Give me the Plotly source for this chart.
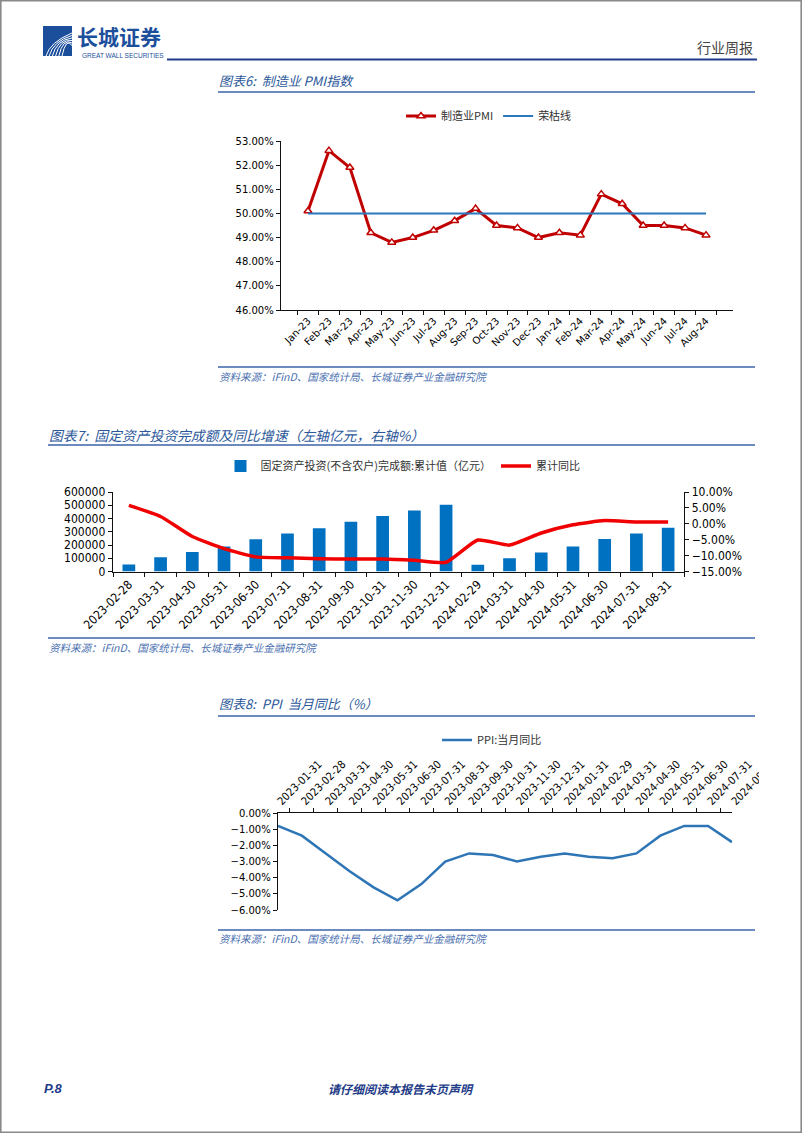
import plotly.graph_objects as go

W, H = 802, 1133


def px(x):
    return x / W


def py(y):
    return 1 - y / H


# ---------------- data ----------------
pmi_months = ["Jan-23", "Feb-23", "Mar-23", "Apr-23", "May-23", "Jun-23", "Jul-23", "Aug-23",
              "Sep-23", "Oct-23", "Nov-23", "Dec-23", "Jan-24", "Feb-24", "Mar-24", "Apr-24",
              "May-24", "Jun-24", "Jul-24", "Aug-24"]
pmi_values = [50.1, 52.6, 51.9, 49.2, 48.8, 49.0, 49.3, 49.7, 50.2, 49.5,
              49.4, 49.0, 49.2, 49.1, 50.8, 50.4, 49.5, 49.5, 49.4, 49.1]
boom_bust_level = 50.0

fai_dates = ["2023-02-28", "2023-03-31", "2023-04-30", "2023-05-31", "2023-06-30", "2023-07-31",
             "2023-08-31", "2023-09-30", "2023-10-31", "2023-11-30", "2023-12-31", "2024-02-29",
             "2024-03-31", "2024-04-30", "2024-05-31", "2024-06-30", "2024-07-31", "2024-08-31"]
fai_values = [53577, 107282, 147482, 188815, 243113, 285898, 327042, 375035, 419409,
              460814, 503036, 50847, 100042, 143401, 188006, 245391, 287611, 329385]
fai_yoy = [5.8, 2.3, -4.0, -7.8, -10.4, -10.7, -11.0, -11.1, -11.1,
           -11.5, -12.1, -5.1, -6.7, -2.9, -0.3, 1.0, 0.6, 0.6]

ppi_dates = ["2023-01-31", "2023-02-28", "2023-03-31", "2023-04-30", "2023-05-31", "2023-06-30",
             "2023-07-31", "2023-08-31", "2023-09-30", "2023-10-31", "2023-11-30", "2023-12-31",
             "2024-01-31", "2024-02-29", "2024-03-31", "2024-04-30", "2024-05-31", "2024-06-30",
             "2024-07-31", "2024-08-31"]
ppi_yoy = [-0.8, -1.4, -2.5, -3.6, -4.6, -5.4, -4.4, -3.0, -2.5, -2.6,
           -3.0, -2.7, -2.5, -2.7, -2.8, -2.5, -1.4, -0.8, -0.8, -1.8]

# ---------------- styles ----------------
CJK = "Noto Sans CJK SC"
TITLE_BLUE = "#2B579A"
SRC_BLUE = "#4A6FB0"
LINE_BLUE = "#3B63A8"
verdana_font = dict(family="Verdana, DejaVu Sans", size=10, color="#000")
cond_font = dict(family="DejaVu Sans Condensed, DejaVu Sans", size=12, color="#000")
legend_font = dict(family=CJK, size=11, color="#333")

fig = go.Figure()

# Chart 6: PMI
fig.add_trace(go.Scatter(
    x=pmi_months, y=pmi_values, name="制造业PMI", mode="lines+markers",
    line=dict(color="#C00000", width=3),
    marker=dict(symbol="triangle-up", size=7, color="white", line=dict(color="#C00000", width=1.5)),
    xaxis="x", yaxis="y", legend="legend"))
fig.add_trace(go.Scatter(
    x=pmi_months, y=[boom_bust_level] * len(pmi_months), name="荣枯线", mode="lines",
    line=dict(color="#2A78BE", width=2), xaxis="x", yaxis="y", legend="legend"))

# Chart 7: fixed asset investment
fig.add_trace(go.Bar(
    x=fai_dates, y=fai_values, name="固定资产投资(不含农户)完成额:累计值（亿元）",
    marker=dict(color="#0070C0", line=dict(width=0)), xaxis="x2", yaxis="y2", legend="legend2"))
fig.add_trace(go.Scatter(
    x=fai_dates, y=fai_yoy, name="累计同比", mode="lines",
    line=dict(color="#F00000", width=3.5, shape="spline", smoothing=0.5),
    xaxis="x2", yaxis="y3", legend="legend2"))

# Chart 8: PPI
fig.add_trace(go.Scatter(
    x=ppi_dates, y=ppi_yoy, name="PPI:当月同比", mode="lines",
    line=dict(color="#2E75B6", width=2.5), xaxis="x3", yaxis="y4", legend="legend3"))

axc = dict(showgrid=False, zeroline=False, showline=True, linecolor="#111", linewidth=1.3,
           ticks="outside", tickcolor="#111", ticklen=4, tickwidth=1, automargin=False)

shapes = []
annotations = []


def hline(x0, x1, y, color=LINE_BLUE, width=1.5):
    shapes.append(dict(type="line", xref="paper", yref="paper", x0=px(x0), x1=px(x1),
                       y0=py(y), y1=py(y), line=dict(color=color, width=width)))


def text(x, y, s, size, color, xanchor="left", family=CJK):
    annotations.append(dict(x=px(x), y=py(y), xref="paper", yref="paper", text=s, showarrow=False,
                            xanchor=xanchor, yanchor="middle",
                            font=dict(family=family, size=size, color=color)))


# header
shapes.append(dict(type="rect", xref="paper", yref="paper", x0=px(43), x1=px(72), y0=py(56), y1=py(26),
                   fillcolor="#1B4F9C", line=dict(width=0)))
for i in range(6):
    x0 = 46 + i * 3.2
    path = "M {:.5f} {:.5f} Q {:.5f} {:.5f} {:.5f} {:.5f}".format(
        px(x0), py(56), px(x0 + 4), py(42 - i), px(72), py(33 + i * 2.5))
    shapes.append(dict(type="path", xref="paper", yref="paper", path=path,
                       line=dict(color="white", width=1)))
text(75, 35.5, "<b>长城证券</b>", 21, "#1B4F9C")
text(80, 55.5, "GREAT WALL SECURITIES", 6.5, "#1B4F9C", family="Liberation Sans")
text(755, 47, "行业周报", 14, "#444", xanchor="right")
hline(167, 757, 59.5, color="#1F3C88", width=2)

# chart 6 titles
text(217, 80, "<i>图表6:  制造业 PMI指数</i>", 13, TITLE_BLUE)
hline(218, 755, 92)
hline(218, 755, 367)
text(217, 377, "<i>资料来源：iFinD、国家统计局、长城证券产业金融研究院</i>", 10.5, SRC_BLUE)

# chart 7 titles
text(47, 435, "<i>图表7:  固定资产投资完成额及同比增速（左轴亿元，右轴%）</i>", 13.8, TITLE_BLUE)
hline(48, 755, 445)
hline(48, 755, 638)
text(47, 647, "<i>资料来源：iFinD、国家统计局、长城证券产业金融研究院</i>", 10.5, SRC_BLUE)

# chart 8 titles
text(217, 704, "<i>图表8:  PPI  当月同比（%）</i>", 13, TITLE_BLUE)
hline(218, 755, 716)
hline(218, 755, 930)
text(217, 938, "<i>资料来源：iFinD、国家统计局、长城证券产业金融研究院</i>", 10.5, SRC_BLUE)

# footer
text(42, 1088, "<b><i>P.8</i></b>", 13, "#1F3C88", family="Liberation Sans")
text(401, 1088, "<b><i>请仔细阅读本报告末页声明</i></b>", 12, "#1F3C88", xanchor="center")

# clip of last PPI label (chart image edge)
shapes.append(dict(type="rect", xref="paper", yref="paper", x0=px(759), x1=px(798), y0=py(812), y1=py(740),
                   fillcolor="white", line=dict(width=0), layer="above"))
# page border
shapes.append(dict(type="rect", xref="paper", yref="paper", x0=px(0.8), x1=px(801.2), y0=py(1132.2), y1=py(0.8),
                   line=dict(color="#8a8a8a", width=1.6), fillcolor="rgba(0,0,0,0)", layer="above"))

leg = dict(orientation="h", xanchor="center", yanchor="middle", font=legend_font,
           bgcolor="rgba(0,0,0,0)", itemwidth=30)

fig.update_layout(
    width=W, height=H, margin=dict(l=0, r=0, t=0, b=0, autoexpand=False),
    paper_bgcolor="white", plot_bgcolor="white",
    bargap=0.6, showlegend=True, hovermode=False,
    legend=dict(leg, x=px(489), y=py(116)),
    legend2=dict(leg, x=px(403), y=py(466)),
    legend3=dict(leg, x=px(492), y=py(740)),
    xaxis=dict(axc, domain=[px(281), px(733)], anchor="y", type="category", tickson="boundaries",
               tickangle=-45, tickfont=verdana_font),
    yaxis=dict(axc, domain=[py(310), py(141)], anchor="x", range=[46, 53], dtick=1,
               tickformat=".2f", ticksuffix="%", tickfont=verdana_font),
    xaxis2=dict(axc, domain=[px(113), px(684)], anchor="y2", type="category", tickson="boundaries",
                tickangle=-45, tickfont=cond_font),
    yaxis2=dict(axc, domain=[py(571.5), py(492)], anchor="x2", range=[0, 600000], dtick=100000,
                tickformat="d", tickfont=cond_font),
    yaxis3=dict(axc, overlaying="y2", side="right", anchor="x2", range=[-15, 10], dtick=5,
                tickformat=".2f", ticksuffix="%", tickfont=cond_font),
    xaxis3=dict(axc, domain=[px(278), px(732)], anchor="y4", side="top", type="category",
                tickson="boundaries", tickangle=-45, tickfont=dict(cond_font, size=11)),
    yaxis4=dict(axc, domain=[py(910), py(813)], anchor="x3", range=[-6, 0], dtick=1,
                tickformat=".2f", ticksuffix="%", tickfont=verdana_font),
    shapes=shapes, annotations=annotations,
)

fig.write_html("out.html", config={"displayModeBar": False, "staticPlot": True},
               post_script="document.body.style.margin='0';document.body.style.overflow='hidden';")
